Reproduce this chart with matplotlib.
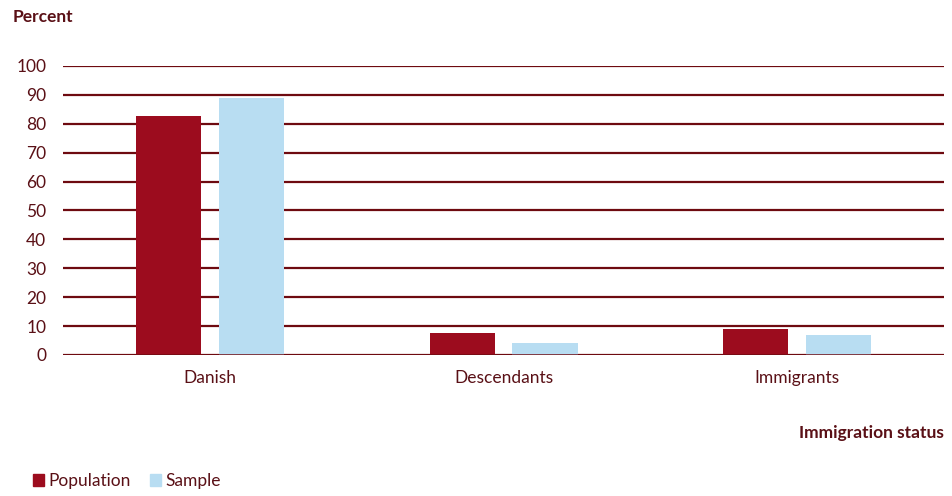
import matplotlib.pyplot as plt
import numpy as np
from matplotlib.patches import Patch

categories = ["Danish", "Descendants", "Immigrants"]
population = [82.7, 7.6, 9.1]
sample = [88.9, 4.0, 6.9]

dark_red = "#9c0c1e"
light_blue = "#b8ddf2"
text_col = "#5a1016"
grid_col = "#6e0a10"

plt.rcParams['font.family'] = ['Lato', 'DejaVu Sans']
fs = 12.5

fig = plt.figure(figsize=(9.52, 4.96), dpi=100)
ax = fig.add_axes([0.0662, 0.2843, 0.9254, 0.5827])

x = np.arange(len(categories))
w = 0.222
ax.bar(x - 0.141, population, w, color=dark_red, zorder=3)
ax.bar(x + 0.141, sample, w, color=light_blue, zorder=3)

ax.set_xlim(-0.5, 2.5)
ax.set_ylim(0, 100)
ax.set_yticks(range(0, 101, 10))
ax.yaxis.grid(True, color=grid_col, linewidth=1.6, zorder=1)
ax.set_axisbelow(True)
for s in ax.spines.values():
    s.set_visible(False)
ax.axhline(0, color=grid_col, linewidth=1.8, zorder=4)

ax.set_xticks(x)
ax.set_xticklabels(categories)
ax.tick_params(axis='both', length=0, labelsize=fs, labelcolor=text_col)
ax.tick_params(axis='x', pad=11)
ax.tick_params(axis='y', pad=12)

fig.text(13 / 952, 1 - 17 / 496, "Percent", fontsize=fs, fontweight='bold',
         color=text_col, ha='left', va='center')
fig.text(944 / 952, 1 - 433 / 496, "Immigration status", fontsize=fs,
         fontweight='bold', color=text_col, ha='right', va='center')

handles = [Patch(color=dark_red, label="Population"),
           Patch(color=light_blue, label="Sample")]
fig.legend(handles=handles, loc='center left', bbox_to_anchor=(17 / 952, 1 - 481 / 496),
           ncol=2, frameon=False, fontsize=fs, labelcolor=text_col,
           handlelength=0.65, handleheight=0.65, handletextpad=0.25, columnspacing=1.1)

fig.savefig("out.png", dpi=100)
